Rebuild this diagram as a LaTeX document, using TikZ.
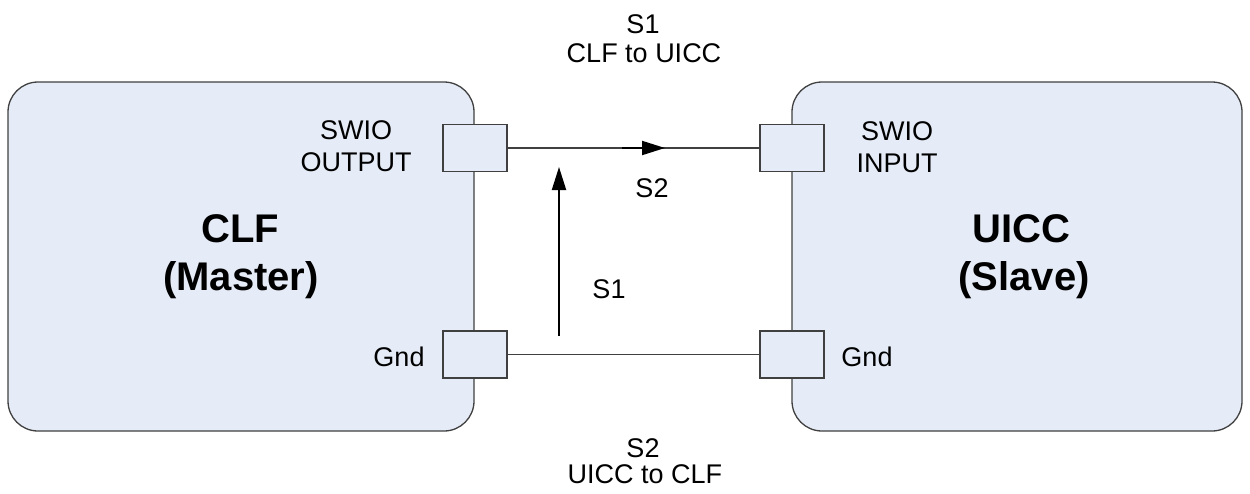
\documentclass[tikz,border=0pt]{standalone}
\usepackage{fontspec}
\setmainfont{Liberation Sans}
\usetikzlibrary{arrows.meta}
\definecolor{boxfill}{HTML}{E6ECF7}
\definecolor{edge}{HTML}{404040}
\tikzset{
  bigbox/.style={draw=edge, line width=1.3pt, fill=boxfill, rounded corners=30pt, inner sep=0pt, minimum height=349pt},
  port/.style={draw=edge, line width=1.3pt, fill=boxfill, inner sep=0pt, minimum width=64pt, minimum height=47pt},
  wire/.style={draw=edge, line width=1.3pt},
  sig/.style={draw=black, line width=2pt, -{Triangle[length=23pt,width=14pt]}},
  lbl/.style={anchor=base, inner sep=0pt, font=\fontsize{27}{32}\selectfont},
  big/.style={anchor=base, inner sep=0pt, font=\fontsize{40}{46}\selectfont\bfseries}
}
\begin{document}
\begin{tikzpicture}[x=1pt,y=-1pt]
\useasboundingbox (0,0) rectangle (1250,493);
% main boxes
\node[bigbox, minimum width=466pt] (clf) at (241,256.5) {};
\node[bigbox, minimum width=450pt] (uicc) at (1017,256.5) {};
% ports
\node[port] (lo) at (475,148) {};
\node[port] (lg) at (475,354.5) {};
\node[port] (ri) at (792,148) {};
\node[port] (rg) at (792,354.5) {};
% wires
\draw[wire] (lo.east) -- (ri.west);
\draw[wire] (lg.east) -- (rg.west);
% signal arrows
\coordinate (h1) at (622,148);
\coordinate (h2) at (665,148);
\draw[sig] (h1) -- (h2);
\coordinate (v1) at (559,336);
\coordinate (v2) at (559,167);
\draw[sig] (v1) -- (v2);
% labels
\node[lbl] (t1) at (643,33) {S1};
\node[lbl] (t2) at (644,62) {CLF to UICC};
\node[lbl] (b1) at (643,457) {S2};
\node[lbl] (b2) at (645,483) {UICC to CLF};
\node[lbl] (swo1) at (356,139) {SWIO};
\node[lbl] (swo2) at (356,171) {OUTPUT};
\node[lbl] (swi1) at (897,140) {SWIO};
\node[lbl] (swi2) at (897,172) {INPUT};
\node[lbl] (ms2) at (652,197) {S2};
\node[lbl] (ms1) at (609,298) {S1};
\node[lbl] (gl) at (399,366) {Gnd};
\node[lbl] (gr) at (867,366) {Gnd};
\node[big] (c1) at (240,242) {CLF};
\node[big] (c2) at (241,290) {(Master)};
\node[big] (u1) at (1021,242) {UICC};
\node[big] (u2) at (1024,290) {(Slave)};
\end{tikzpicture}
\end{document}
